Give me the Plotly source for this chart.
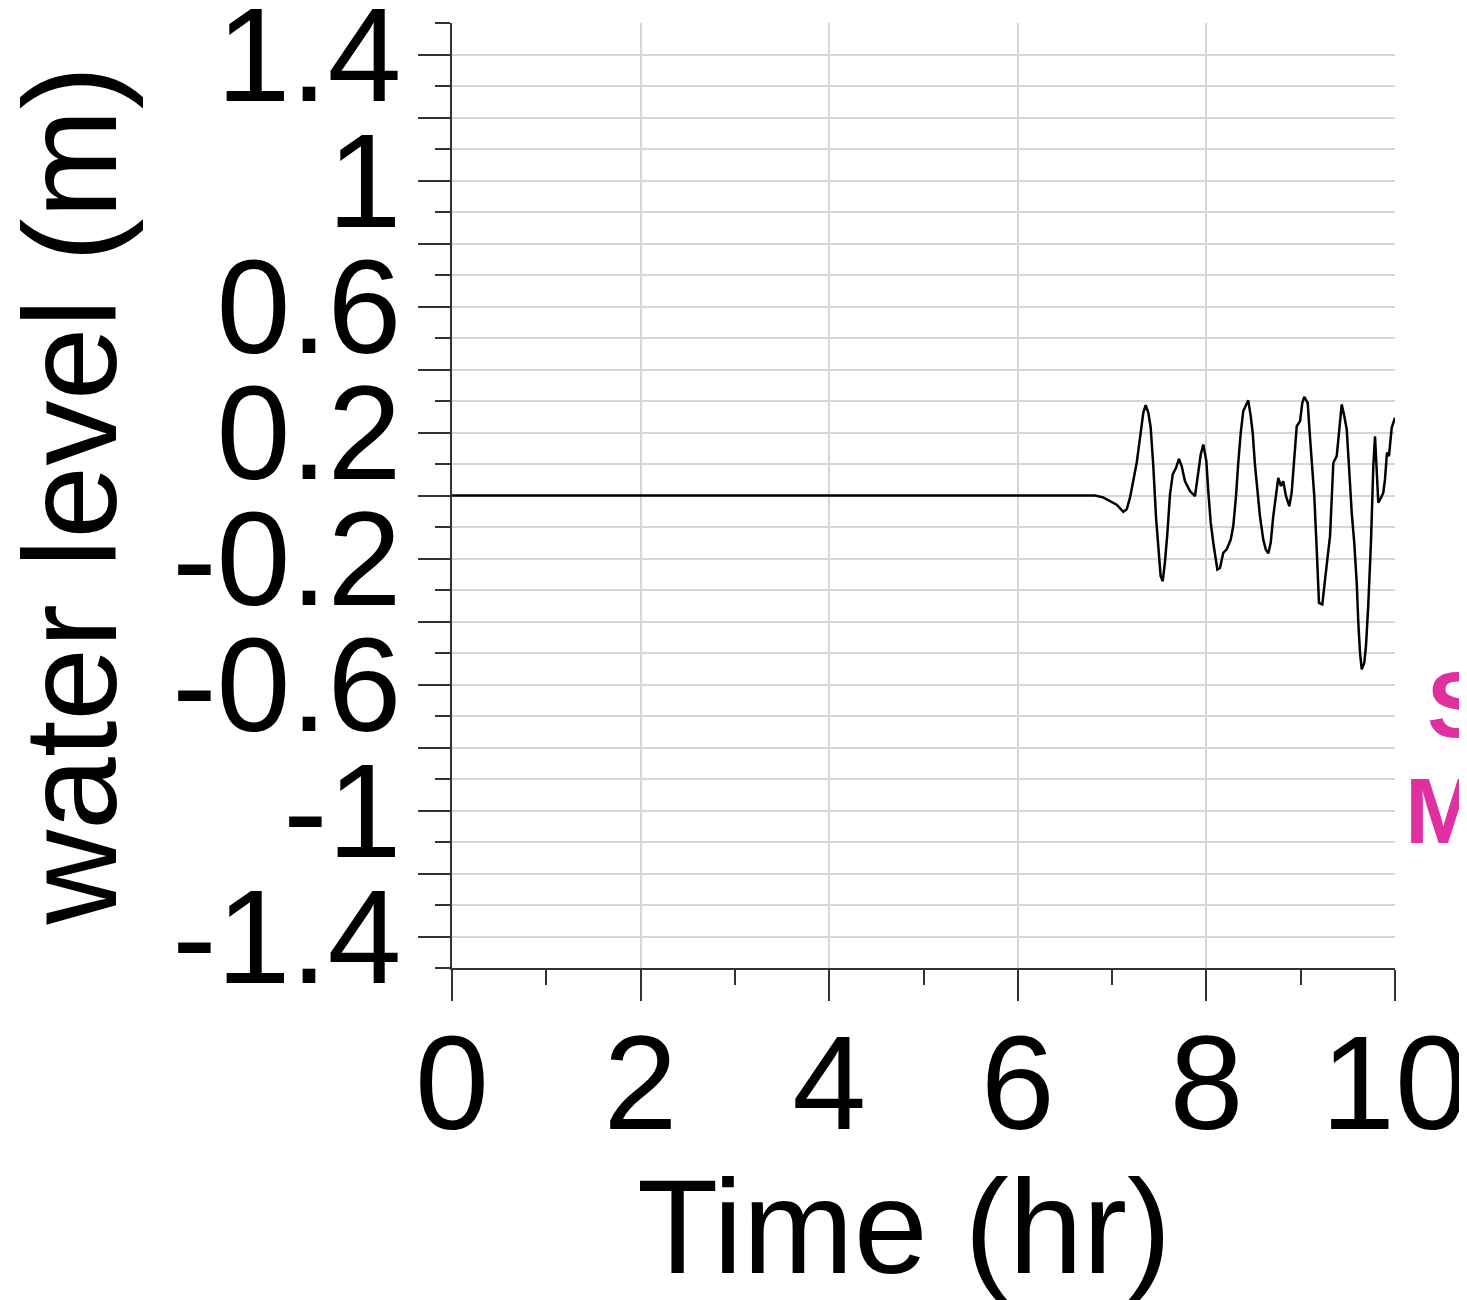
import plotly.graph_objects as go

# Data
time_hr = [0.0, 6.2, 6.819, 6.904, 6.978, 7.049, 7.119, 7.155, 7.190, 7.225, 7.261, 7.296,
           7.331, 7.356, 7.384, 7.409, 7.437, 7.466, 7.490, 7.515, 7.537, 7.561, 7.585,
           7.614, 7.643, 7.678, 7.709, 7.738, 7.773, 7.826, 7.879, 7.914, 7.940, 7.967,
           7.999, 8.022, 8.046, 8.073, 8.091, 8.116, 8.144, 8.179, 8.215, 8.258, 8.285,
           8.314, 8.338, 8.364, 8.391, 8.427, 8.444, 8.470, 8.491, 8.515, 8.540, 8.568,
           8.603, 8.629, 8.656, 8.682, 8.709, 8.738, 8.762, 8.791, 8.815, 8.844, 8.879,
           8.904, 8.929, 8.958, 8.993, 9.017, 9.038, 9.074, 9.098, 9.123, 9.144, 9.170,
           9.194, 9.229, 9.258, 9.286, 9.311, 9.329, 9.346, 9.382, 9.406, 9.435, 9.462,
           9.488, 9.512, 9.541, 9.568, 9.594, 9.611, 9.629, 9.647, 9.674, 9.692, 9.716,
           9.745, 9.770, 9.788, 9.806, 9.823, 9.852, 9.876, 9.894, 9.915, 9.936, 9.965,
           10.0]
water_level_m = [0.0, 0.0, 0.0, -0.006, -0.018, -0.029, -0.052, -0.044, -0.007, 0.045, 0.104,
                 0.183, 0.263, 0.287, 0.263, 0.216, 0.093, -0.070, -0.177, -0.256, -0.272,
                 -0.209, -0.124, 0.003, 0.067, 0.088, 0.116, 0.093, 0.045, 0.014, -0.002,
                 0.077, 0.130, 0.162, 0.110, 0.006, -0.087, -0.150, -0.193, -0.235, -0.230,
                 -0.182, -0.171, -0.140, -0.097, -0.002, 0.104, 0.199, 0.268, 0.294, 0.302,
                 0.252, 0.199, 0.098, 0.009, -0.066, -0.140, -0.171, -0.184, -0.150, -0.066,
                 -0.002, 0.056, 0.030, 0.045, -0.002, -0.034, 0.009, 0.104, 0.220, 0.236,
                 0.294, 0.313, 0.294, 0.188, 0.093, -0.002, -0.171, -0.341, -0.346, -0.277,
                 -0.193, -0.129, -0.002, 0.104, 0.125, 0.210, 0.289, 0.252, 0.210, 0.093,
                 -0.055, -0.150, -0.277, -0.404, -0.499, -0.552, -0.531, -0.478, -0.351,
                 -0.150, 0.093, 0.188, 0.093, -0.023, -0.007, 0.009, 0.051, 0.136, 0.125,
                 0.215, 0.247]

x_tick_vals = [0, 2, 4, 6, 8, 10]
x_tick_text = ["0", "2", "4", "6", "8", "10"]
x_minor_vals = [1, 3, 5, 7, 9]
y_tick_vals = [-1.4, -1.2, -1.0, -0.8, -0.6, -0.4, -0.2, 0.0, 0.2, 0.4, 0.6, 0.8, 1.0, 1.2, 1.4]
y_tick_text = ["-1.4", "", "-1", "", "-0.6", "", "-0.2", "", "0.2", "", "0.6", "", "1", "", "1.4"]
y_minor_vals = [-1.5, -1.3, -1.1, -0.9, -0.7, -0.5, -0.3, -0.1, 0.1, 0.3, 0.5, 0.7, 0.9,
                1.1, 1.3, 1.5]

x_title = "Time (hr)"
y_title = "water level (m)"

FONT = "Liberation Sans, Arial, sans-serif"
AXIS_COLOR = "#333333"
GRID_COLOR = "#d6d6d6"
TICK_SIZE = 133

fig = go.Figure()
fig.add_trace(go.Scatter(x=time_hr, y=water_level_m, mode="lines",
                         line=dict(color="black", width=2.5),
                         showlegend=False))

# The page adds an 8px body margin, so the figure is 8px smaller than the window
fig.update_layout(
    width=1459, height=1292,
    margin=dict(l=444, r=72, t=15, b=331.5),
    paper_bgcolor="white", plot_bgcolor="white",
    font=dict(family=FONT, color="black"),
    showlegend=False,
)

fig.update_xaxes(
    range=[0, 10], tickmode="array", tickvals=x_tick_vals, ticktext=x_tick_text,
    ticks="outside", ticklen=31, tickwidth=2, tickcolor=AXIS_COLOR,
    showline=True, linecolor=AXIS_COLOR, linewidth=2, zeroline=False,
    showgrid=True, gridcolor=GRID_COLOR, gridwidth=1.5,
    tickfont=dict(size=TICK_SIZE, family=FONT, color="black"),
    ticklabelstandoff=-32, ticklabeloverflow="allow", automargin=False,
    minor=dict(tickmode="array", tickvals=x_minor_vals, ticks="outside", ticklen=15,
               tickwidth=2, tickcolor=AXIS_COLOR, showgrid=False),
)

fig.update_yaxes(
    range=[-1.5, 1.5], tickmode="array", tickvals=y_tick_vals, ticktext=y_tick_text,
    ticks="outside", ticklen=32, tickwidth=2, tickcolor=AXIS_COLOR,
    showline=True, linecolor=AXIS_COLOR, linewidth=2, zeroline=False,
    showgrid=True, gridcolor=GRID_COLOR, gridwidth=1.5,
    tickfont=dict(size=TICK_SIZE, family=FONT, color="black"),
    ticklabelstandoff=-10, ticklabeloverflow="allow", automargin=False,
    minor=dict(tickmode="array", tickvals=y_minor_vals, ticks="outside", ticklen=15,
               tickwidth=2, tickcolor=AXIS_COLOR, showgrid=True, gridcolor=GRID_COLOR,
               gridwidth=1.5),
)

# Axis titles placed as annotations for exact positioning
fig.add_annotation(text=x_title, xref="paper", yref="paper", x=(896 - 444) / 943,
                   y=(960.5 - 1143) / 945, xanchor="center", yanchor="top", showarrow=False,
                   font=dict(size=133, family=FONT, color="black"))
fig.add_annotation(text=y_title, xref="paper", yref="paper", x=(62 - 444) / 943,
                   y=(960.5 - 488) / 945, xanchor="center", yanchor="middle", textangle=-90,
                   showarrow=False, font=dict(size=131, family=FONT, color="black"))

# Clipped magenta labels from the neighbouring panel at the right edge
fig.add_annotation(text="<b>S</b>", xref="paper", yref="paper", x=(1417 - 444) / 943,
                   y=(960.5 - 697) / 945, xanchor="left", yanchor="middle", showarrow=False,
                   font=dict(size=92, family=FONT, color="#e0309f"))
fig.add_annotation(text="<b>M</b>", xref="paper", yref="paper", x=(1395 - 444) / 943,
                   y=(960.5 - 803) / 945, xanchor="left", yanchor="middle", showarrow=False,
                   font=dict(size=92, family=FONT, color="#e0309f"))

fig.write_html("out.html")
